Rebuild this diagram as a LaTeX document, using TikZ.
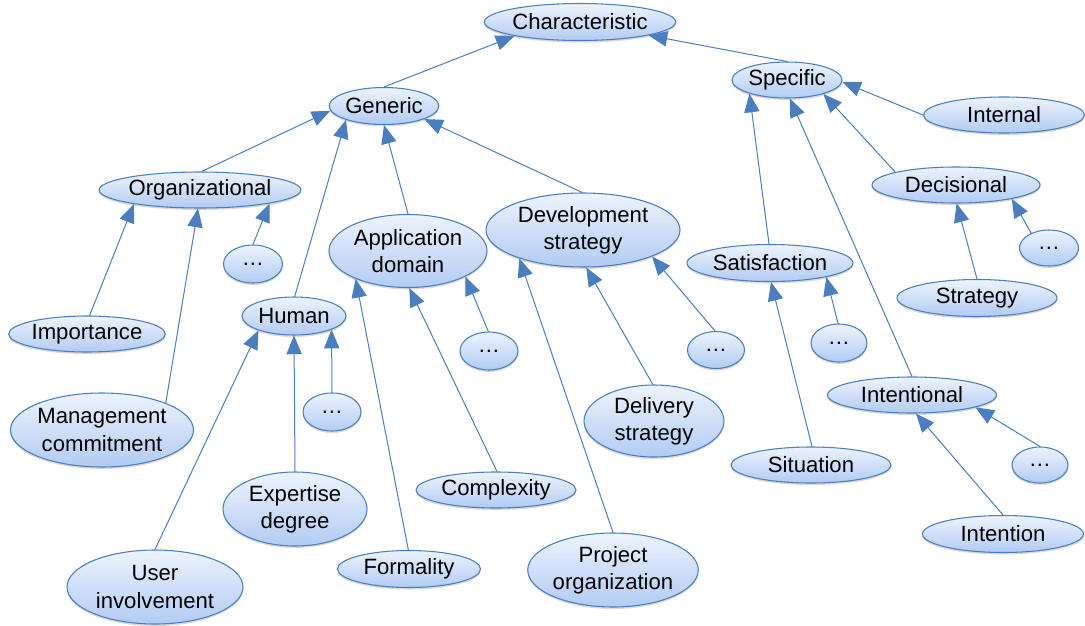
\documentclass[tikz,border=0pt]{standalone}
\usepackage{fontspec}
\setmainfont{Liberation Sans}
\usetikzlibrary{shapes.geometric,arrows.meta,shadows}
\definecolor{ebord}{HTML}{4A7EBF}
\definecolor{etop}{HTML}{EDF3FD}
\definecolor{ebot}{HTML}{B2CBF3}
\definecolor{elink}{HTML}{4A7EBF}
\tikzset{
  ell/.style 2 args={ellipse, draw=ebord, line width=0.8pt, top color=etop, bottom color=ebot,
    inner sep=0pt, align=center, minimum width=#1*0.75pt, minimum height=#2*0.75pt,
    font=\fontsize{16.6}{20.4}\selectfont,
    drop shadow={shadow xshift=0pt, shadow yshift=-1.5pt, opacity=0.25, fill=black!60}},
  link/.style={draw=elink, line width=0.75pt, -{Triangle[length=14pt,width=11.5pt]}}
}
\begin{document}
\begin{tikzpicture}[x=0.75pt,y=-0.75pt]
\useasboundingbox (0,0) rectangle (1085,625);
% nodes
\node[ell={190}{37}] (char) at (580,22) {Characteristic};
\node[ell={109}{37}] (gen) at (384,106) {Generic};
\node[ell={110}{36}] (spec) at (787,80) {Specific};
\node[ell={161}{36}] (internal) at (1004,115) {Internal};
\node[ell={196}{36}] (org) at (200,190) {Organizational};
\node[ell={59}{38}] (dorg) at (253,264) {…};
\node[ell={104}{38}] (human) at (294,316) {Human};
\node[ell={58}{38}] (dhum) at (332,412) {…};
\node[ell={158}{73}] (app) at (408,251) {Application\\domain};
\node[ell={58}{38}] (dapp) at (489,351) {…};
\node[ell={194}{74}] (dev) at (583,230) {Development\\strategy};
\node[ell={57}{37}] (ddev) at (716,350) {…};
\node[ell={166}{37}] (sat) at (770,263) {Satisfaction};
\node[ell={56}{38}] (dsat) at (839,343) {…};
\node[ell={168}{36}] (dec) at (956,185) {Decisional};
\node[ell={59}{36}] (ddec) at (1049,248) {…};
\node[ell={160}{37}] (strat) at (977,298) {Strategy};
\node[ell={153}{36}] (imp) at (87,334) {Importance};
\node[ell={183}{74}] (mgmt) at (102,430) {Management\\commitment};
\node[ell={176}{74}] (user) at (155,587) {User\\involvement};
\node[ell={144}{74}] (exp) at (295,509) {Expertise\\degree};
\node[ell={143}{37}] (form) at (409,569) {Formality};
\node[ell={160}{36}] (comp) at (496,490) {Complexity};
\node[ell={167}{74}] (proj) at (613,570) {Project\\organization};
\node[ell={140}{72}] (deliv) at (654,421) {Delivery\\strategy};
\node[ell={169}{36}] (intl) at (912,395) {Intentional};
\node[ell={160}{36}] (sit) at (811,465) {Situation};
\node[ell={56}{36}] (dint) at (1040,465) {…};
\node[ell={161}{37}] (intn) at (1003,534) {Intention};
% links
\draw[link] (gen.90) -- (char.192);
\draw[link] (spec.90) -- (char.-11);
\draw[link] (internal.180) -- (spec.-2);
\draw[link] (dec.168) -- (spec.-21);
\draw[link] (intl.90) -- (spec.-81);
\draw[link] (sat.93) -- (spec.200);
\draw[link] (org.85) -- (gen.185);
\draw[link] (human.88) -- (gen.200);
\draw[link] (app.90) -- (gen.270);
\draw[link] (dev.91) -- (gen.-18);
\draw[link] (imp.82) -- (org.192);
\draw[link] (mgmt.23) -- (org.264);
\draw[link] (dorg.90) -- (org.-11);
\draw[link] (user.90) -- (human.202);
\draw[link] (exp.90) -- (human.270);
\draw[link] (dhum.90) -- (human.-20);
\draw[link] (form.92) -- (app.208);
\draw[link] (comp.87) -- (app.272);
\draw[link] (dapp.92) -- (app.-24);
\draw[link] (proj.90) -- (dev.204);
\draw[link] (deliv.92) -- (dev.275);
\draw[link] (ddev.93) -- (dev.-21);
\draw[link] (sit.87) -- (sat.273);
\draw[link] (dsat.93) -- (sat.-14);
\draw[link] (strat.90) -- (dec.272);
\draw[link] (ddec.140) -- (dec.-14);
\draw[link] (intn.90) -- (intl.282);
\draw[link] (dint.90) -- (intl.-11);
\end{tikzpicture}
\end{document}
